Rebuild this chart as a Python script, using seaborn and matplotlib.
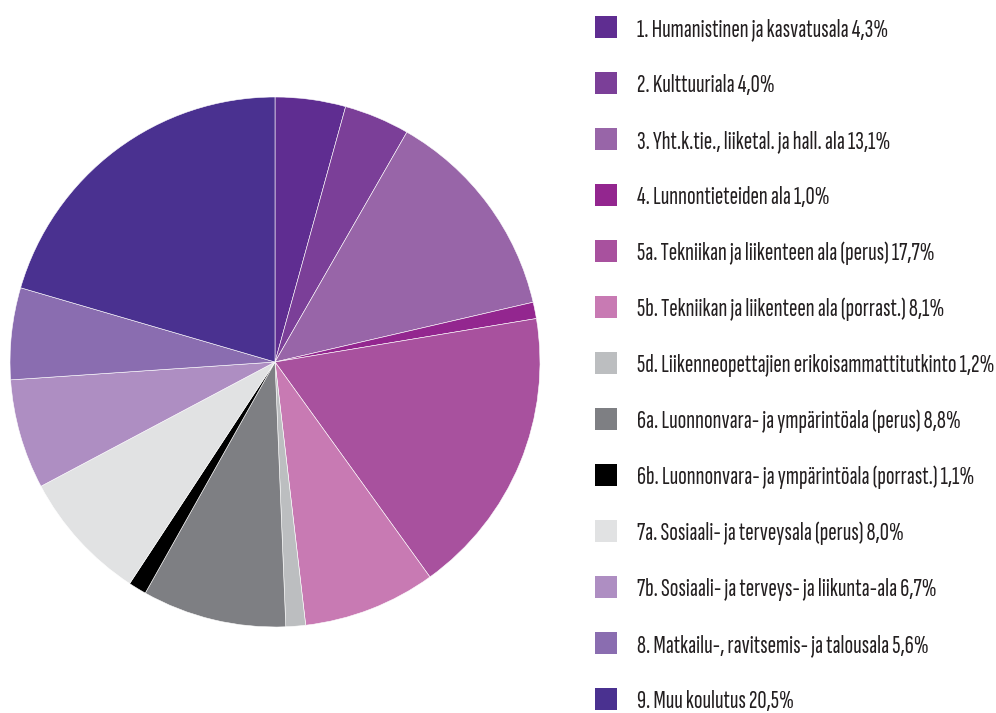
import matplotlib
matplotlib.use("Agg")
import matplotlib.pyplot as plt
from matplotlib.patches import Rectangle
from matplotlib.textpath import TextPath
from matplotlib.font_manager import FontProperties
from matplotlib import font_manager
import seaborn as sns

labels = [
    "1. Humanistinen ja kasvatusala",
    "2. Kulttuuriala",
    "3. Yht.k.tie., liiketal. ja hall. ala",
    "4. Lunnontieteiden ala",
    "5a. Tekniikan ja liikenteen ala (perus)",
    "5b. Tekniikan ja liikenteen ala (porrast.)",
    "5d. Liikenneopettajien erikoisammattitutkinto",
    "6a. Luonnonvara- ja ympärintöala (perus)",
    "6b. Luonnonvara- ja ympärintöala (porrast.)",
    "7a. Sosiaali- ja terveysala (perus)",
    "7b. Sosiaali- ja terveys- ja liikunta-ala",
    "8. Matkailu-, ravitsemis- ja talousala",
    "9. Muu koulutus",
]
shares = [4.3, 4.0, 13.1, 1.0, 17.7, 8.1, 1.2, 8.8, 1.1, 8.0, 6.7, 5.6, 20.5]
colors = [
    "#5F2D91", "#7B3F98", "#9865A8", "#93268F", "#A8519E", "#C87AB3",
    "#BCBEC0", "#7E7F83", "#000000", "#E1E2E3", "#AE8EC2", "#8A6DB0",
    "#4A3190",
]

texts = [f"{lab} " + f"{val:.1f}".replace(".", ",") + "%"
         for lab, val in zip(labels, shares)]
longest = max(texts, key=len)

sns.set_theme(style="white")

# pick the narrow family whose width/cap-height proportions suit the legend
CAP_PX, WIDTH_PX = 18.0, 356.0
WEIGHT = "light"
installed = {f.name for f in font_manager.fontManager.ttflist}
candidates = ["Fira Sans Extra Condensed", "Sofia Sans Extra Condensed",
              "Saira Extra Condensed", "Saira ExtraCondensed",
              "Encode Sans Compressed", "Pathway Gothic One",
              "Yanone Kaffeesatz", "Barlow Condensed", "Roboto Condensed",
              "Fira Sans Condensed", "Archivo Narrow", "PT Sans Narrow"]

def metrics(fam):
    fp = FontProperties(family=fam, weight=WEIGHT)
    cap = TextPath((0, 0), "H", size=100, prop=fp).get_extents().height
    wid = TextPath((0, 0), longest, size=100, prop=fp).get_extents().width
    return cap, wid

best, best_err, best_m = "DejaVu Sans", None, None
for fam in candidates:
    if fam not in installed:
        continue
    cap, wid = metrics(fam)
    err = abs(wid / cap - WIDTH_PX / CAP_PX)
    if best_err is None or err < best_err:
        best, best_err, best_m = fam, err, (cap, wid)
if best_m is None:
    best_m = metrics(best)
plt.rcParams["font.family"] = [best, "DejaVu Sans"]

cap, wid = best_m
# size in px per em, limited by both cap height and total width
em_px = min(CAP_PX / (cap / 100), WIDTH_PX / (wid / 100))
fsize = em_px * 72 / 100

W, H = 996, 713
fig = plt.figure(figsize=(W / 100, H / 100), dpi=100)
fig.patch.set_facecolor("white")

# pie: centre (275, 362) px, radius 265 px
cx, cy, r = 275, 362, 265
ax = fig.add_axes([(cx - r) / W, (H - cy - r) / H, 2 * r / W, 2 * r / H])
ax.pie(shares, colors=colors, startangle=90, counterclock=False,
       radius=1.0, wedgeprops=dict(edgecolor="white", linewidth=0.4))
ax.set_xlim(-1, 1)
ax.set_ylim(-1, 1)
ax.set_aspect("auto")
ax.axis("off")

box = 22
x_box = 595
y0, step = 27, 56
for i, (txt, col) in enumerate(zip(texts, colors)):
    yc = y0 + i * step
    fig.patches.append(Rectangle((x_box / W, (H - yc - box / 2) / H), box / W, box / H,
                                 transform=fig.transFigure, facecolor=col,
                                 edgecolor="none"))
    fig.text(637 / W, (H - yc - 9) / H, txt, ha="left", va="baseline",
             fontsize=fsize, fontweight=WEIGHT, color="#231F20")

fig.savefig("out.png", dpi=100, facecolor="white")
